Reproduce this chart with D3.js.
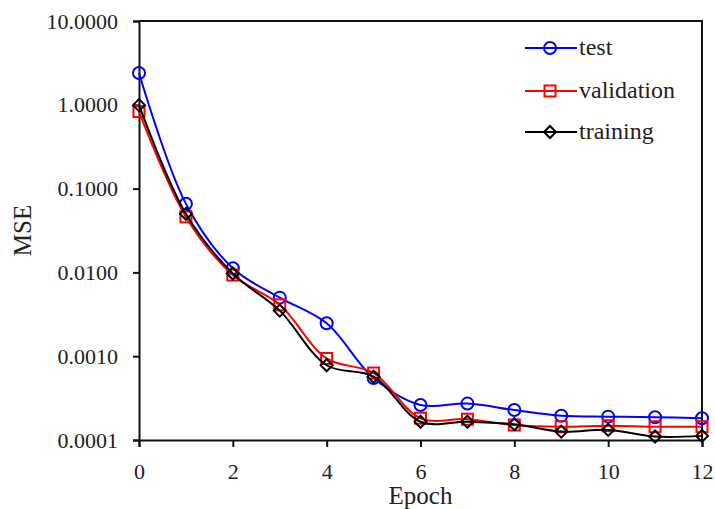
<!DOCTYPE html>
<html>
<head>
<meta charset="utf-8">
<script src="https://cdn.jsdelivr.net/npm/d3@7"></script>
<style>
  html, body { margin: 0; padding: 0; background: #fff; }
  svg { display: block; }
  text { font-family: "Liberation Serif", "Times New Roman", serif; fill: #222; }
</style>
</head>
<body>
<svg id="chart" width="715" height="509"></svg>
<script>
// Mean squared error per training epoch
const epochs = [0, 1, 2, 3, 4, 5, 6, 7, 8, 9, 10, 11, 12];
const testMSE       = [2.4, 0.066, 0.0112, 0.0050, 0.00247, 0.00055, 0.000262, 0.000272, 0.000228, 0.000195, 0.000190, 0.000187, 0.000182];
const validationMSE = [0.83, 0.046, 0.0093, 0.0041, 0.00094, 0.00063, 0.000182, 0.000177, 0.000151, 0.000144, 0.000148, 0.000144, 0.000144];
const trainingMSE   = [0.99, 0.050, 0.0097, 0.0035, 0.00078, 0.00057, 0.000165, 0.000165, 0.000154, 0.000126, 0.000132, 0.000110, 0.000112];

const seriesNames = ["test", "validation", "training"];
const seriesColors = ["#0000ff", "#ff0000", "#000000"];
const seriesMarkers = ["circle", "square", "diamond"];
const seriesValues = [testMSE, validationMSE, trainingMSE];

const xTicks = [0, 2, 4, 6, 8, 10, 12];
const yTicks = [0.0001, 0.001, 0.01, 0.1, 1, 10];

const margin = { left: 139, right: 13, top: 21, bottom: 69 };
const width = 715, height = 509;
const svg = d3.select("#chart");

const x = d3.scaleLinear().domain([0, 12]).range([margin.left, width - margin.right]);
const y = d3.scaleLog().domain([0.0001, 10]).range([height - margin.bottom, margin.top]);

const axisColor = "#111";

// frame: top and right edges
svg.append("path")
  .attr("d", `M${x(0)},${y(10)}H${x(12)}V${y(0.0001)}`)
  .attr("fill", "none").attr("stroke", axisColor).attr("stroke-width", 2);

// y axis
const yAxis = svg.append("g").attr("transform", `translate(${x(0)},0)`)
  .call(d3.axisLeft(y).tickValues(yTicks).tickFormat(d3.format(".4f")).tickSize(6).tickPadding(15));
// x axis
const xAxis = svg.append("g").attr("transform", `translate(0,${y(0.0001)})`)
  .call(d3.axisBottom(x).tickValues(xTicks).tickSize(7).tickPadding(16));

[yAxis, xAxis].forEach(g => {
  g.select(".domain").attr("stroke", axisColor).attr("stroke-width", 2);
  g.selectAll(".tick line").attr("stroke", axisColor).attr("stroke-width", 2);
  g.selectAll(".tick text")
    .style("font-family", '"Liberation Serif", "Times New Roman", serif')
    .style("font-size", "22px").attr("fill", "#333");
});

// axis titles
svg.append("text")
  .attr("x", (x(0) + x(12)) / 2).attr("y", 504)
  .attr("text-anchor", "middle").style("font-size", "25px").text("Epoch");
svg.append("text")
  .attr("transform", `translate(31,${(y(10) + y(0.0001)) / 2}) rotate(-90)`)
  .attr("text-anchor", "middle").style("font-size", "25px").text("MSE");

// marker shapes
function drawMarker(g, kind, cx, cy, color) {
  if (kind === "circle") {
    g.append("circle").attr("cx", cx).attr("cy", cy).attr("r", 6)
      .attr("fill", "none").attr("stroke", color).attr("stroke-width", 2);
  } else if (kind === "square") {
    g.append("rect").attr("x", cx - 5.5).attr("y", cy - 5.5).attr("width", 11).attr("height", 11)
      .attr("fill", "none").attr("stroke", color).attr("stroke-width", 2);
  } else {
    g.append("path").attr("d", `M${cx},${cy - 6}L${cx + 6},${cy}L${cx},${cy + 6}L${cx - 6},${cy}Z`)
      .attr("fill", "none").attr("stroke", color).attr("stroke-width", 2);
  }
}

const line = d3.line()
  .x((d, i) => x(epochs[i]))
  .y(d => y(d))
  .curve(d3.curveCatmullRom.alpha(0.5));

seriesValues.forEach((vals, s) => {
  const g = svg.append("g");
  g.append("path").datum(vals).attr("d", line)
    .attr("fill", "none").attr("stroke", seriesColors[s]).attr("stroke-width", 2);
  vals.forEach((v, i) => drawMarker(g, seriesMarkers[s], x(epochs[i]), y(v), seriesColors[s]));
});

// legend
const legendY = [48, 91, 132];
seriesNames.forEach((name, s) => {
  const g = svg.append("g");
  g.append("line").attr("x1", 525).attr("x2", 577).attr("y1", legendY[s]).attr("y2", legendY[s])
    .attr("stroke", seriesColors[s]).attr("stroke-width", 2);
  drawMarker(g, seriesMarkers[s], 550, legendY[s], seriesColors[s]);
  g.append("text").attr("x", 579).attr("y", legendY[s]).attr("dy", "0.3em")
    .style("font-size", "24px").text(name);
});
</script>
</body>
</html>
